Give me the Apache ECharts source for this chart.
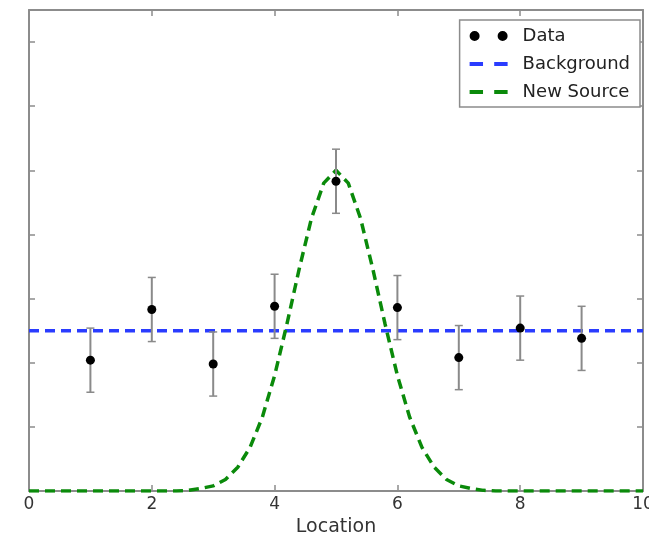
<!DOCTYPE html>
<html>
<head>
<meta charset="utf-8">
<script src="https://cdn.jsdelivr.net/npm/echarts@6/dist/echarts.min.js"></script>
<style>html,body{margin:0;padding:0;background:#fff;}#c{width:649px;height:534px;}</style>
</head>
<body>
<div id="c"></div>
<script>
// Measured data points
var dataX = [1, 2, 3, 4, 5, 6, 7, 8, 9];
var dataY = [2.04, 2.83, 1.98, 2.88, 4.83, 2.86, 2.08, 2.54, 2.38];
var dataErr = [0.5, 0.5, 0.5, 0.5, 0.5, 0.5, 0.5, 0.5, 0.5];

// Background level (flat line)
var bgX = [0, 10];
var bgY = [2.5, 2.5];

// New source curve
var srcX = [0, 2.4, 2.6, 2.8, 3.0, 3.2, 3.4, 3.6, 3.8, 4.0, 4.2, 4.4, 4.6, 4.8, 5.0,
            5.2, 5.4, 5.6, 5.8, 6.0, 6.2, 6.4, 6.6, 6.8, 7.0, 7.2, 7.4, 7.6, 10];
var srcY = [0, 0, 0.01, 0.04, 0.08, 0.18, 0.37, 0.68, 1.15, 1.80, 2.60, 3.46, 4.25, 4.80, 5.00,
            4.80, 4.25, 3.46, 2.60, 1.80, 1.15, 0.68, 0.37, 0.18, 0.08, 0.04, 0.01, 0, 0];

var xTicks = [0, 2, 4, 6, 8, 10];

var chart = echarts.init(document.getElementById('c'), null, {renderer: 'canvas'});

function pairs(xs, ys) { return xs.map(function (x, i) { return [x, ys[i]]; }); }

var axisLine = {show: true, onZero: false, lineStyle: {color: '#8c8c8c', width: 2}};
var tickStyle = {show: true, inside: true, length: 6, lineStyle: {color: '#8c8c8c', width: 1.5}};

var option = {
  backgroundColor: '#ffffff',
  animation: false,
  grid: {left: 29, right: 6, top: 10, bottom: 43, containLabel: false, outerBoundsMode: 'none'},
  xAxis: [{
    type: 'value', min: 0, max: 10, interval: 2, position: 'bottom',
    axisLine: axisLine, axisTick: tickStyle, splitLine: {show: false},
    axisLabel: {show: true, fontSize: 17, color: '#333', margin: 5, fontFamily: 'DejaVu Sans',
      formatter: function (v) { return xTicks.indexOf(v) >= 0 ? String(v) : ''; }},
    name: 'Location', nameLocation: 'middle', nameGap: 25,
    nameTextStyle: {fontSize: 19, color: '#333', fontFamily: 'DejaVu Sans'}
  }, {
    type: 'value', min: 0, max: 10, interval: 2, position: 'top',
    axisLine: axisLine, axisTick: tickStyle, splitLine: {show: false}, axisLabel: {show: false}
  }],
  yAxis: [{
    type: 'value', min: 0, max: 7.5, interval: 1, position: 'left',
    axisLine: axisLine, axisTick: tickStyle, splitLine: {show: false}, axisLabel: {show: false}
  }, {
    type: 'value', min: 0, max: 7.5, interval: 1, position: 'right',
    axisLine: axisLine, axisTick: tickStyle, splitLine: {show: false}, axisLabel: {show: false}
  }],
  legend: {
    orient: 'vertical', right: 9, top: 20,
    backgroundColor: '#fff', borderColor: '#8c8c8c', borderWidth: 1.5, borderRadius: 0,
    padding: [5, 10, 4, 10], itemGap: 6, itemWidth: 38, itemHeight: 10,
    textStyle: {fontSize: 18, color: '#222', fontFamily: 'DejaVu Sans', lineHeight: 22, padding: [0, 0, 0, 10]},
    data: [
      {name: 'Data', icon: 'path://M0,5a5,5 0 1,0 10,0a5,5 0 1,0 -10,0z M28,5a5,5 0 1,0 10,0a5,5 0 1,0 -10,0z'},
      {name: 'Background', icon: 'path://M0,0h12v3.5h-12z M22,0h12v3.5h-12z'},
      {name: 'New Source', icon: 'path://M0,0h12v3.5h-12z M22,0h12v3.5h-12z'}
    ]
  },
  series: [
    {
      name: 'Background', type: 'line', data: pairs(bgX, bgY), symbol: 'none',
      itemStyle: {color: '#2a3cff'},
      lineStyle: {color: '#2a3cff', width: 3.5, type: [10, 6]}, z: 3
    },
    {
      name: 'New Source', type: 'line', data: pairs(srcX, srcY), symbol: 'none',
      itemStyle: {color: '#0a8a0a'},
      lineStyle: {color: '#0a8a0a', width: 3.5, type: [10, 6]}, z: 3
    },
    {
      name: 'errbars', type: 'custom', z: 4,
      data: dataX.map(function (x, i) { return [x, dataY[i] - dataErr[i], dataY[i] + dataErr[i]]; }),
      renderItem: function (params, api) {
        var lo = api.coord([api.value(0), api.value(1)]);
        var hi = api.coord([api.value(0), api.value(2)]);
        var cw = 4;
        var st = {stroke: '#8a8a8a', lineWidth: 2};
        return {type: 'group', children: [
          {type: 'line', shape: {x1: lo[0], y1: lo[1], x2: hi[0], y2: hi[1]}, style: st},
          {type: 'line', shape: {x1: lo[0] - cw, y1: lo[1], x2: lo[0] + cw, y2: lo[1]}, style: {stroke: '#8a8a8a', lineWidth: 1.5}},
          {type: 'line', shape: {x1: hi[0] - cw, y1: hi[1], x2: hi[0] + cw, y2: hi[1]}, style: {stroke: '#8a8a8a', lineWidth: 1.5}}
        ]};
      }
    },
    {
      name: 'Data', type: 'scatter', data: pairs(dataX, dataY), symbol: 'circle', symbolSize: 9,
      itemStyle: {color: '#000', opacity: 1}, z: 5
    }
  ]
};
chart.setOption(option);
</script>
</body>
</html>
